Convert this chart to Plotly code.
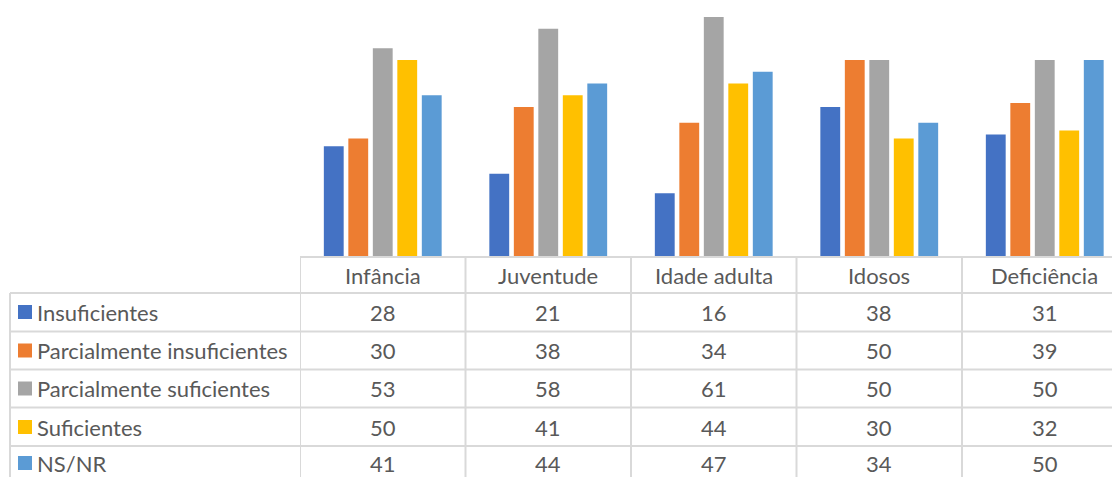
import plotly.graph_objects as go

categories = ["Infância", "Juventude", "Idade adulta", "Idosos", "Deficiência"]
series_names = ["Insuficientes", "Parcialmente insuficientes", "Parcialmente suficientes", "Suficientes", "NS/NR"]
insuficientes = [28, 21, 16, 38, 31]
parc_insuficientes = [30, 38, 34, 50, 39]
parc_suficientes = [53, 58, 61, 50, 50]
suficientes = [50, 41, 44, 30, 32]
ns_nr = [41, 44, 47, 34, 50]
series_values = [insuficientes, parc_insuficientes, parc_suficientes, suficientes, ns_nr]
colors = ["#4472C4", "#ED7D31", "#A5A5A5", "#FFC000", "#5B9BD5"]

W, H = 1112, 477
PLOT_LEFT = 300
BASE_Y = 256
COL_W = 165.5
ROW_LINES = [293, 331.5, 369.5, 407.5, 446]
ROW_CENTERS = [312, 350.5, 388.5, 427, 463]
HEADER_CENTER = 275
TXT = "#595959"
GRID = "#D9D9D9"
FONT = "Lato"
FS = 22

def px(x):
    return x / W

def py(y):
    return 1 - y / H

fig = go.Figure()
for name, vals, c in zip(series_names, series_values, colors):
    fig.add_trace(go.Bar(x=list(range(len(categories))), y=vals, name=name,
                         marker=dict(color=c, line=dict(width=0))))

visible = (W - PLOT_LEFT) / COL_W
x_range = [-0.5, -0.5 + visible]

fig.update_layout(
    width=W, height=H,
    margin=dict(l=0, r=0, t=0, b=0),
    paper_bgcolor="white", plot_bgcolor="white",
    barmode="group", bargap=0.26, bargroupgap=0.19,
    showlegend=False,
    font=dict(family=FONT, size=FS, color=TXT),
    xaxis=dict(domain=[px(PLOT_LEFT), 1], range=x_range, showticklabels=False,
               showgrid=False, zeroline=False, showline=False, fixedrange=True),
    yaxis=dict(domain=[py(BASE_Y), 1], range=[0, BASE_Y / 3.92], showticklabels=False,
               showgrid=False, zeroline=False, showline=False, fixedrange=True),
)

shapes = []
line = dict(color=GRID, width=2)
shapes.append(dict(type="line", xref="paper", yref="paper", x0=px(PLOT_LEFT), x1=1,
                   y0=py(BASE_Y + 1), y1=py(BASE_Y + 1), line=line))
for ry in ROW_LINES:
    shapes.append(dict(type="line", xref="paper", yref="paper", x0=px(10), x1=1,
                       y0=py(ry), y1=py(ry), line=line))
for i in range(len(categories) + 1):
    shapes.append(dict(type="line", xref="x", yref="paper", x0=i - 0.5, x1=i - 0.5,
                       y0=py(BASE_Y), y1=0, line=line))
shapes.append(dict(type="line", xref="paper", yref="paper", x0=px(10), x1=px(10),
                   y0=py(ROW_LINES[0]), y1=0, line=line))
for c, cy in zip(colors, ROW_CENTERS):
    shapes.append(dict(type="rect", xref="paper", yref="paper", x0=px(18), x1=px(32),
                       y0=py(cy + 7), y1=py(cy - 7), fillcolor=c, line=dict(width=0)))

annotations = []
for i, cat in enumerate(categories):
    annotations.append(dict(x=i, y=py(HEADER_CENTER), xref="x", yref="paper", text=cat,
                            showarrow=False, xanchor="center", yanchor="middle",
                            font=dict(family=FONT, size=FS, color=TXT)))
for name, vals, cy in zip(series_names, series_values, ROW_CENTERS):
    annotations.append(dict(x=px(35), y=py(cy), xref="paper", yref="paper", text=name,
                            showarrow=False, xanchor="left", yanchor="middle",
                            font=dict(family=FONT, size=FS, color=TXT)))
    for i, v in enumerate(vals):
        annotations.append(dict(x=i, y=py(cy), xref="x", yref="paper", text=str(v),
                                showarrow=False, xanchor="center", yanchor="middle",
                                font=dict(family=FONT, size=FS, color=TXT)))

fig.update_layout(shapes=shapes, annotations=annotations)
fig.write_html("out.html", config={"displayModeBar": False},
               post_script="document.body.style.margin='0';document.body.style.overflow='hidden';")
